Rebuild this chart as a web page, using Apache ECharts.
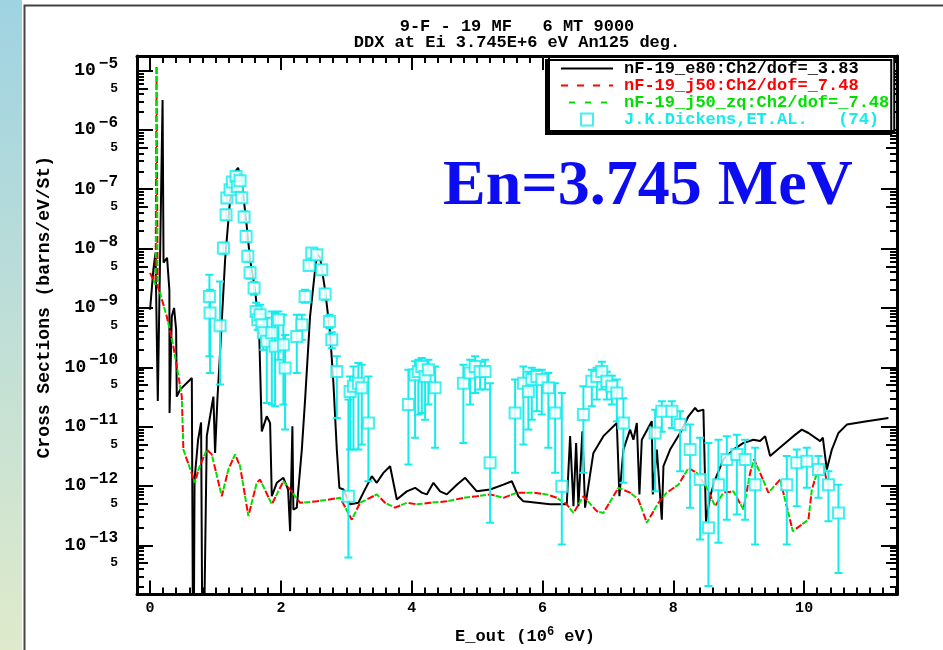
<!DOCTYPE html>
<html><head><meta charset="utf-8">
<script src="https://cdn.jsdelivr.net/npm/echarts@6/dist/echarts.min.js"></script>
<style>html,body{margin:0;padding:0;background:#fff}#c{width:943px;height:650px}</style>
</head><body><div id="c"></div>
<script>
// ---------------- data ----------------
const titleLines = ['9-F - 19 MF   6 MT 9000', 'DDX at Ei 3.745E+6 eV An125 deg.'];
const seriesNames = ['nF-19_e80:Ch2/dof=_3.83', 'nF-19_j50:Ch2/dof=_7.48', 'nF-19_j50_zq:Ch2/dof=_7.48', 'J.K.Dickens,ET.AL.   (74)'];
const annotation = 'En=3.745 MeV';
const xTickValues = [0, 2, 4, 6, 8, 10];
const yDecadeValues = [1e-5, 1e-6, 1e-7, 1e-8, 1e-9, 1e-10, 1e-11, 1e-12, 1e-13];
const yFiveValues = [5e-6, 5e-7, 5e-8, 5e-9, 5e-10, 5e-11, 5e-12, 5e-13, 5e-14];
const X_MIN = -0.2, X_MAX = 11.42, Y_MIN = 1.48e-14, Y_MAX = 1.76e-5;

// nF-19_e80 (black solid)
const e80X = [0,0.05,0.083,0.118,0.191,0.206,0.26,0.295,0.298,0.332,0.367,0.398,0.408,0.459,0.638,0.662,0.68,0.734,0.78,0.806,
0.826,0.867,0.943,0.968,0.994,1.029,1.07,1.147,1.223,1.30,1.346,1.407,1.468,1.529,1.606,1.667,1.708,1.784,1.835,1.861,
1.937,2.038,2.11,2.141,2.176,2.191,2.243,2.32,2.37,2.446,2.523,2.554,2.60,2.676,2.752,2.803,2.855,2.894,2.956,3.058,
3.185,3.261,3.39,3.466,3.567,3.67,3.772,3.925,4.052,4.154,4.231,4.332,4.434,4.537,4.69,4.817,4.995,5.199,5.402,5.531,
5.631,5.708,5.913,6.116,6.371,6.422,6.473,6.514,6.549,6.61,6.651,6.778,6.931,7.136,7.176,7.237,7.339,7.39,7.442,7.482,
7.518,7.671,7.687,7.748,7.824,7.849,7.951,8.104,8.231,8.333,8.375,8.46,8.50,8.563,8.639,8.766,8.919,9.072,9.225,9.327,
9.404,9.48,9.659,9.836,9.965,10.066,10.245,10.286,10.347,10.424,10.524,10.653,10.959,11.289];
const e80Y = [9.3e-10,4.4e-9,8.5e-9,2.7e-11,3.2e-6,5.8e-9,7.0e-9,2.0e-9,1.7e-11,7.2e-10,1.0e-9,4.3e-10,3.2e-11,4.2e-11,6.6e-11,1e-16,1.28e-12,6.0e-12,1.17e-11,1e-16,
1e-16,6.9e-12,2.2e-11,3.2e-11,3.6e-12,2.85e-11,1.74e-10,6.5e-9,6.6e-8,1.96e-7,2.3e-7,1.19e-7,3.05e-8,6.5e-9,2.0e-9,4.3e-10,8.3e-12,1.49e-11,1.15e-11,6.7e-13,
1.13e-12,1.37e-12,8.7e-13,1.73e-13,1.01e-11,4.0e-13,4.3e-13,4.1e-12,2.85e-11,7.2e-10,4.4e-9,8.2e-9,7.0e-9,2.0e-9,3.8e-10,5.4e-11,4.1e-12,9.3e-13,8.7e-13,4.9e-13,
5.2e-13,7.7e-13,1.46e-12,1.13e-12,1.66e-12,2.15e-12,5.9e-13,8.1e-13,9.3e-13,7.7e-13,7.2e-13,1.13e-12,8.1e-13,7.2e-13,1.05e-12,1.37e-12,8.1e-13,8.7e-13,1.05e-12,1.2e-12,
6.7e-13,5.5e-13,5.2e-13,4.9e-13,4.9e-13,6.9e-12,4.55e-13,5.3e-12,4.55e-13,8.3e-12,4.3e-13,3.6e-12,6.9e-12,1.15e-11,6.7e-13,4.1e-12,8.9e-12,6.0e-12,1.15e-11,7.2e-13,
6.0e-12,1.23e-11,7.2e-13,4.1e-12,2.7e-13,2.15e-12,4.1e-12,7.8e-12,1.49e-11,2.07e-11,1.81e-11,1.93e-11,2.5e-13,6.7e-13,1.28e-12,2.8e-12,4.1e-12,5.3e-12,6.0e-12,5.7e-12,
6.9e-12,3.2e-12,4.7e-12,6.9e-12,8.9e-12,7.8e-12,5.7e-12,6.5e-12,1.89e-12,4.1e-12,7.8e-12,1.08e-11,1.23e-11,1.4e-11];

// nF-19_j50 (red dashed)
const j50X = [0,0.084,0.099,0.115,0.153,0.255,0.356,0.459,0.485,0.509,0.561,0.688,0.739,0.867,0.943,1.096,1.197,1.30,1.376,1.503,
1.631,1.682,1.861,2.038,2.141,2.294,2.549,2.905,3.084,3.211,3.314,3.466,3.593,3.746,3.925,4.078,4.281,4.537,4.79,4.995,
5.199,5.402,5.607,5.861,6.066,6.219,6.371,6.473,6.625,6.83,6.931,7.161,7.339,7.466,7.595,7.772,7.9,8.078,8.231,8.359,
8.512,8.639,8.766,8.919,9.072,9.174,9.235,9.327,9.454,9.633,9.827,10.066,10.118,10.219,10.295,10.347];
const j50Y = [3.9e-9,2.45e-9,1.15e-5,2.3e-9,1.78e-9,7.2e-10,2.25e-10,4.8e-11,3.2e-11,4.1e-12,2.8e-12,1.13e-12,1.89e-12,4.1e-12,3.4e-12,6.7e-13,1.89e-12,3.4e-12,2.15e-12,3.1e-13,
1.13e-12,1.28e-12,4.9e-13,1.2e-12,8.7e-13,5.2e-13,5.5e-13,6.3e-13,2.7e-13,5.2e-13,5.9e-13,7.2e-13,5.2e-13,4.3e-13,5.2e-13,4.9e-13,5.2e-13,5.5e-13,6.3e-13,6.7e-13,
7.2e-13,6.3e-13,7.7e-13,7.7e-13,7.2e-13,6.3e-13,4.9e-13,3.5e-13,6.7e-13,3.75e-13,3.5e-13,9.3e-13,7.7e-13,5.9e-13,2.4e-13,5.2e-13,7.7e-13,1.05e-12,2.0e-12,1.66e-12,
9.3e-13,4.55e-13,7.7e-13,8.1e-13,4.0e-13,1.66e-12,2.8e-12,1.66e-12,7.7e-13,1.28e-12,1.73e-13,2.7e-13,8.7e-13,2.0e-12,2.15e-12,1.2e-12];

// nF-19_j50_zq (green dashed) - coincides with j50 in the picture
const zqX = j50X.slice();
const zqY = j50Y.slice();

// J.K.Dickens et al. experimental points: energy, value, lower, upper
const expX = [0.907,0.917,1.070,1.121,1.162,1.173,1.223,1.258,1.315,1.335,
1.376,1.402,1.437,1.468,1.494,1.529,1.590,1.621,1.647,1.682,
1.708,1.732,1.784,1.861,1.911,1.962,2.038,2.064,2.243,2.320,
2.370,2.431,2.472,2.549,2.625,2.676,2.742,2.778,2.855,3.032,
3.058,3.109,3.185,3.237,3.338,3.950,4.052,4.102,4.154,4.205,
4.255,4.358,4.790,4.893,4.969,5.046,5.122,5.199,5.581,5.708,
5.784,5.836,5.913,5.989,6.090,6.193,6.295,6.625,6.754,6.830,
6.907,6.983,7.060,7.136,7.237,7.722,7.824,7.977,8.104,8.257,
8.410,8.537,8.690,8.818,8.971,9.098,9.251,9.735,9.888,10.041,
10.219,10.372,10.525];
const expY = [1.56e-9,8.2e-10,5.0e-10,1.02e-8,3.7e-8,7.1e-8,9.8e-8,1.32e-7,1.64e-7,1.11e-7,
1.39e-7,7.2e-8,3.4e-8,1.6e-8,7.4e-9,3.9e-9,2.16e-9,8.7e-10,6.3e-10,7.7e-10,
5.2e-10,3.8e-10,2.73e-10,3.8e-10,2.25e-10,6.3e-10,2.4e-10,9.7e-11,3.3e-10,5.2e-10,
1.56e-9,5.2e-9,8.4e-9,7.9e-9,4.4e-9,1.71e-9,5.9e-10,2.9e-10,8.5e-11,6.7e-13,
3.9e-11,4.8e-11,5.4e-11,4.5e-11,1.15e-11,2.35e-11,7.5e-11,8.5e-11,1.03e-10,7.0e-11,
9.1e-11,4.5e-11,5.4e-11,8.0e-11,1.03e-10,8.5e-11,8.5e-11,2.45e-12,1.7e-11,5.4e-11,
3.9e-11,6.2e-11,7.0e-11,6.2e-11,4.5e-11,1.7e-11,9.9e-13,1.6e-11,5.8e-11,7.0e-11,
8.5e-11,5.8e-11,4.8e-11,3.7e-11,1.15e-11,7.8e-12,1.81e-11,1.81e-11,1.08e-11,4.1e-12,
1.28e-12,1.97e-13,1.05e-12,2.8e-12,3.4e-12,2.8e-12,1.05e-12,1.05e-12,2.45e-12,2.6e-12,
1.89e-12,1.05e-12,3.5e-13];
const expLo = [1.53e-10,8.0e-11,5.1e-11,8.2e-9,3.05e-8,5.9e-8,8.4e-8,1.1e-7,1.39e-7,9.4e-8,
1.19e-7,6.1e-8,2.8e-8,1.3e-8,6.0e-9,3.1e-9,1.67e-9,6.1e-10,4.3e-10,5.0e-10,
3.4e-10,1.98e-10,2.5e-11,2.35e-11,2.2e-11,1.34e-10,2.35e-11,8.9e-12,8.0e-11,2.9e-10,
1.22e-9,4.4e-9,7.0e-9,6.5e-9,3.6e-9,1.37e-9,4.6e-10,2.1e-10,1.4e-11,6.2e-14,
4.1e-12,4.1e-12,4.1e-12,5.0e-12,1.2e-12,2.3e-12,6.5e-12,1.6e-11,1.7e-11,1.31e-11,
2.35e-11,4.4e-12,5.3e-12,2.35e-11,3.7e-11,4.2e-11,4.2e-11,2.4e-13,1.66e-12,5.0e-12,
8.9e-12,1.31e-11,1.81e-11,1.6e-11,4.4e-12,1.66e-12,1.03e-13,1.66e-12,2.2e-11,2.85e-11,
4.2e-11,2.85e-11,2.35e-11,1.23e-11,1.13e-12,8.1e-13,8.2e-12,9.5e-12,1.77e-12,4.3e-13,
1.25e-13,2.05e-14,1.1e-13,2.7e-13,3.3e-13,2.7e-13,1.03e-13,1.03e-13,4.55e-13,9.3e-13,
6.3e-13,2.55e-13,3.4e-14];
const expHi = [3.62e-9,2.03e-9,2.79e-9,1.25e-8,4.5e-8,8.4e-8,1.14e-7,1.56e-7,1.96e-7,1.33e-7,
1.62e-7,8.7e-8,4.2e-8,1.99e-8,9.2e-9,4.9e-9,2.76e-9,1.22e-9,9.3e-10,1.13e-9,
8.0e-10,6.3e-10,6.8e-10,8.7e-10,8.2e-10,8.7e-10,7.7e-10,3.5e-10,7.7e-10,7.7e-10,
2.03e-9,6.2e-9,9.9e-9,9.5e-9,5.3e-9,2.1e-9,7.7e-10,3.9e-10,1.53e-10,2.85e-11,
7.0e-11,1.03e-10,1.18e-10,1.1e-10,7.0e-11,9.1e-11,1.26e-10,1.34e-10,1.43e-10,1.24e-10,
1.34e-10,1.03e-10,1.1e-10,1.34e-10,1.53e-10,1.24e-10,1.34e-10,5.4e-11,6.2e-11,1.03e-10,
8.4e-11,9.8e-11,9.1e-11,9.1e-11,8.0e-11,5.4e-11,3.7e-11,4.8e-11,9.1e-11,9.8e-11,
1.24e-10,8.4e-11,7.2e-11,6.2e-11,3.0e-11,1.93e-11,2.67e-11,2.67e-11,1.81e-11,1.08e-11,
6.5e-12,5.3e-12,6.0e-12,6.9e-12,7.3e-12,6.0e-12,4.4e-12,3.2e-12,4.1e-12,4.4e-12,
3.2e-12,1.77e-12,1.05e-12];

// ---------------- chart ----------------
const FONT = '"Liberation Mono", "DejaVu Sans Mono", monospace';
const CYAN = '#14ecec';
const RED = '#ff0000', GREEN = '#00e000';
const xMinor = [];
for (let i = -1; i <= 57; i++) { const v = Math.round(i * 2) / 10; if (v >= X_MIN && v <= X_MAX && xTickValues.indexOf(v) < 0) xMinor.push(v); }
const yMinor = [];
for (let k = -15; k <= -5; k++) for (let m = 2; m <= 9; m++) { if (m === 5) continue; const v = m * Math.pow(10, k); if (v > Y_MIN && v < Y_MAX) yMinor.push(v); }

const zip = (xs, ys) => xs.map((x, i) => [x, ys[i]]);

function xAx(pos, values, len, line, labels) {
  return {
    type: 'value', min: X_MIN, max: X_MAX, position: pos,
    axisLine: { show: line, onZero: false, lineStyle: { color: '#000', width: 3 } },
    axisTick: { show: true, inside: true, length: len, customValues: values, lineStyle: { color: '#000', width: 2 } },
    axisLabel: labels ? { show: true, customValues: xTickValues, color: '#000', fontFamily: FONT, fontWeight: 'bold', fontSize: 15, margin: 6 } : { show: false },
    splitLine: { show: false }
  };
}
function yAx(pos, values, len, line, labels) {
  return {
    type: 'log', logBase: 10, min: Y_MIN, max: Y_MAX, position: pos,
    axisLine: { show: line, onZero: false, lineStyle: { color: '#000', width: 3 } },
    axisTick: { show: true, inside: true, length: len, customValues: values, lineStyle: { color: '#000', width: 2 } },
    axisLabel: labels ? {
      show: true, customValues: yDecadeValues.concat(yFiveValues), margin: 19, color: '#000',
      formatter: function (v) {
        const e = Math.round(Math.log10(v));
        const m = v / Math.pow(10, e);
        if (Math.abs(m - 1) < 0.01) return '{b|10}{e|\u2212' + Math.abs(e) + '}';
        return '{m|5}';
      },
      rich: {
        b: { fontFamily: FONT, fontWeight: 'bold', fontSize: 18, color: '#000' },
        e: { fontFamily: FONT, fontWeight: 'bold', fontSize: 16, color: '#000', padding: [0, 0, 14, 3] },
        m: { fontFamily: FONT, fontWeight: 'bold', fontSize: 13, color: '#000' }
      }
    } : { show: false },
    splitLine: { show: false }
  };
}

const xAxes = [xAx('bottom', xTickValues, 14, true, true), xAx('bottom', xMinor, 7, false, false),
               xAx('top', xTickValues, 14, true, false), xAx('top', xMinor, 7, false, false)];
xAxes[0].name = '{a|E_out (10}{s|6}{a| eV)}';
xAxes[0].nameLocation = 'middle';
xAxes[0].nameGap = 31;
xAxes[0].nameTextStyle = { padding: [0, 0, 0, 16], rich: {
  a: { fontFamily: FONT, fontWeight: 'bold', fontSize: 17, color: '#000' },
  s: { fontFamily: FONT, fontWeight: 'bold', fontSize: 12, color: '#000', padding: [0, 0, 10, 0] } } };

const yAxes = [yAx('left', yDecadeValues, 16, true, true), yAx('left', yFiveValues, 11, false, false), yAx('left', yMinor, 7, false, false),
               yAx('right', yDecadeValues, 16, true, false), yAx('right', yFiveValues, 11, false, false), yAx('right', yMinor, 7, false, false)];
yAxes[0].name = 'Cross Sections (barns/eV/St)';
yAxes[0].nameLocation = 'middle';
yAxes[0].nameGap = 80;
yAxes[0].nameTextStyle = { fontFamily: FONT, fontWeight: 'bold', fontSize: 18, color: '#000', padding: [0, 0, 0, 36] };

const hiddenSymbol = { opacity: 0 };
const chart = echarts.init(document.getElementById('c'), null, { renderer: 'canvas' });
chart.setOption({
  animation: false,
  backgroundColor: '#fff',
  title: {
    text: titleLines.join('\n'), left: 517, top: 19, padding: 0, textAlign: 'center',
    textStyle: { fontFamily: FONT, fontWeight: 'bold', fontSize: 17, lineHeight: 16, color: '#000' }
  },
  legend: {
    orient: 'vertical', left: 549, top: 57, itemWidth: 52, itemHeight: 12, itemGap: 0,
    padding: [3, 5, 3, 11], backgroundColor: '#fff', borderColor: '#000', borderWidth: 2,
    shadowColor: '#000', shadowOffsetX: -3, shadowOffsetY: 3, shadowBlur: 0,
    symbolKeepAspect: true,
    textStyle: { fontFamily: FONT, fontWeight: 'bold', fontSize: 17, lineHeight: 17, padding: [0, 0, 0, 6] },
    data: [
      { name: seriesNames[0], textStyle: { color: '#000' }, itemStyle: hiddenSymbol },
      { name: seriesNames[1], textStyle: { color: RED }, itemStyle: hiddenSymbol },
      { name: seriesNames[2], textStyle: { color: GREEN }, itemStyle: hiddenSymbol },
      { name: seriesNames[3], textStyle: { color: CYAN }, icon: 'path://M0,0H10V10H0Z',
        itemStyle: { color: '#fff', borderColor: CYAN, borderWidth: 2 } }
    ]
  },
  grid: { left: 137, right: 46, top: 56, bottom: 55, containLabel: false },
  xAxis: xAxes,
  yAxis: yAxes,
  graphic: [
    { type: 'rect', left: 0, top: 0, z: -10, shape: { width: 22, height: 650 },
      style: { fill: new echarts.graphic.LinearGradient(0, 0, 0, 1, [{ offset: 0, color: '#9fd3e2' }, { offset: 1, color: '#dfeacb' }]) } },
    { type: 'rect', left: 22, top: 3, z: -9, shape: { width: 940, height: 660 },
      style: { fill: 'none', stroke: '#444', lineWidth: 2 } },
    { type: 'text', left: 443, top: 155, z: 10,
      style: { text: annotation, fill: '#0c0cf2', font: 'bold 64px "Liberation Serif", "Times New Roman", serif' } }
  ],
  series: [
    { name: seriesNames[0], type: 'line', data: zip(e80X, e80Y), symbol: 'none', showSymbol: false,
      lineStyle: { color: '#000', width: 2 }, itemStyle: { color: '#000' }, z: 2, clip: true },
    { name: seriesNames[1], type: 'line', data: zip(j50X, j50Y), symbol: 'none', showSymbol: false,
      lineStyle: { color: RED, width: 2, type: [7, 9], dashOffset: 0 }, itemStyle: { color: RED }, z: 3, clip: true },
    { name: seriesNames[2], type: 'line', data: zip(zqX, zqY), symbol: 'none', showSymbol: false,
      lineStyle: { color: GREEN, width: 2, type: [6, 10], dashOffset: 8 }, itemStyle: { color: GREEN }, z: 3, clip: true },
    { name: 'errorbars', type: 'custom', z: 4, clip: true,
      data: expX.map((x, i) => [x, expLo[i], expHi[i]]),
      encode: { x: 0, y: [1, 2] },
      renderItem: function (params, api) {
        const x = api.value(0);
        const p1 = api.coord([x, api.value(2)]);
        const p2 = api.coord([x, api.value(1)]);
        const cw = 4, st = { stroke: CYAN, lineWidth: 2 };
        return { type: 'group', children: [
          { type: 'line', shape: { x1: p1[0], y1: p1[1], x2: p2[0], y2: p2[1] }, style: st },
          { type: 'line', shape: { x1: p1[0] - cw, y1: p1[1], x2: p1[0] + cw, y2: p1[1] }, style: st },
          { type: 'line', shape: { x1: p2[0] - cw, y1: p2[1], x2: p2[0] + cw, y2: p2[1] }, style: st }
        ] };
      }
    },
    { name: seriesNames[3], type: 'scatter', data: zip(expX, expY), symbol: 'emptyRect', symbolSize: 11,
      itemStyle: { color: CYAN, borderWidth: 2 }, z: 5, clip: true }
  ]
});
</script></body></html>
